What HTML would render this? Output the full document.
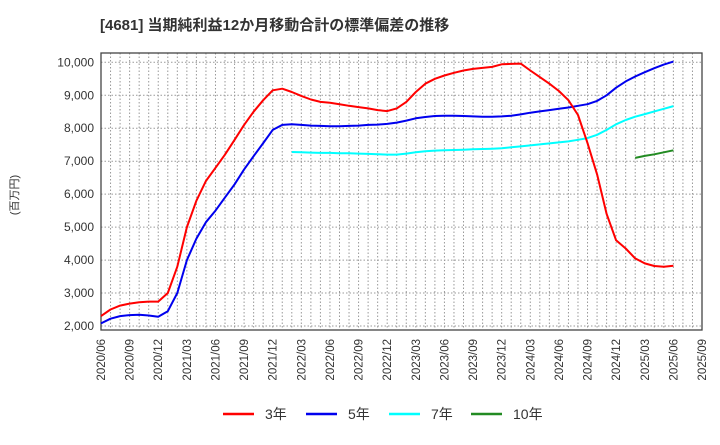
<!DOCTYPE html>
<html><head><meta charset="utf-8"><style>
body{margin:0;background:#fff;font-family:"Liberation Sans","Noto Sans CJK JP",sans-serif}
</style></head><body>
<svg id="c" width="720" height="440" xmlns="http://www.w3.org/2000/svg" style="font-family:'Liberation Sans','Noto Sans CJK JP',sans-serif">
<text x="100" y="30" font-size="15" font-weight="bold" fill="#333">[4681]  当期純利益12か月移動合計の標準偏差の推移</text>
<text transform="translate(18,195) rotate(-90)" text-anchor="middle" font-size="11" fill="#333">(百万円)</text>
<g id="grid"></g><g id="axes"></g><g id="series"></g><g id="legend"></g>
</svg>
<script>
const yTicks=[2000,3000,4000,5000,6000,7000,8000,9000,10000];
const xTickLabels=["2020/06","2020/09","2020/12","2021/03","2021/06","2021/09","2021/12","2022/03","2022/06","2022/09","2022/12","2023/03","2023/06","2023/09","2023/12","2024/03","2024/06","2024/09","2024/12","2025/03","2025/06","2025/09"];
const s3=[2300,2500,2620,2680,2720,2740,2740,3000,3800,5000,5800,6400,6800,7200,7650,8100,8500,8850,9150,9200,9100,8980,8870,8800,8770,8730,8680,8640,8600,8550,8520,8600,8800,9100,9350,9500,9600,9680,9750,9800,9830,9860,9940,9950,9960,9750,9550,9350,9130,8850,8400,7550,6600,5400,4600,4350,4050,3900,3820,3800,3830];
const s5=[2080,2220,2300,2330,2340,2320,2280,2450,3000,4000,4650,5150,5500,5900,6300,6750,7150,7550,7950,8100,8120,8100,8080,8070,8060,8060,8070,8080,8100,8110,8130,8170,8230,8300,8340,8370,8380,8380,8370,8360,8350,8350,8360,8380,8420,8470,8510,8550,8590,8630,8680,8730,8830,9000,9230,9420,9570,9700,9820,9930,10020];
const s7=[7280,7270,7260,7250,7250,7240,7240,7230,7220,7210,7200,7200,7230,7270,7300,7320,7330,7340,7350,7360,7370,7380,7390,7420,7450,7480,7510,7540,7570,7600,7650,7700,7800,7950,8120,8250,8350,8430,8510,8590,8670];
const s10=[7100,7160,7210,7270,7330];
const start7=20, start10=56;
const L=101,R=702,T=53,B=330,months=63;
const X=m=>L+m*(R-L)/months;
const Y=v=>326-(v-2000)*(326-62.3)/8000;
const NS="http://www.w3.org/2000/svg";
function mk(tag,attrs,parent){const e=document.createElementNS(NS,tag);for(const k in attrs)e.setAttribute(k,attrs[k]);document.getElementById(parent).appendChild(e);return e;}
for(let m=1;m<months;m++){const e=mk('line',{x1:X(m),x2:X(m),y1:T,y2:B,stroke:'#999','stroke-dasharray':'1.5,2','stroke-width':1},'grid');

}
yTicks.forEach(v=>{const e=mk('line',{x1:L,x2:R,y1:Y(v),y2:Y(v),stroke:'#999','stroke-dasharray':'1.5,2'},'grid');


const t=mk('text',{x:L-7,y:Y(v)+4,'text-anchor':'end','font-size':12,fill:'#333'},'axes');t.textContent=v.toLocaleString('en-US');

});
const f=mk('rect',{x:L,y:T,width:R-L,height:B-T,fill:'none',stroke:'#444','stroke-width':1.3},'axes');


xTickLabels.forEach((s,i)=>{const x=X(i*3);const t=mk('text',{transform:`translate(${x+4},339) rotate(-90)`,'text-anchor':'end','font-size':11.5,fill:'#333'},'axes');t.textContent=s;

});
function line(arr,st,col,name){const p=arr.map((v,i)=>X(st+i).toFixed(1)+','+Y(v).toFixed(1)).join(' ');
const e=mk('polyline',{points:p,fill:'none',stroke:col,'stroke-width':2,'stroke-linejoin':'round'},'series');

}
line(s7,start7,'#00ffff','series-7y');
line(s10,start10,'#228b22','series-10y');
line(s5,0,'#0000ee','series-5y');
line(s3,0,'#ff0000','series-3y');
[['3年','#ff0000',223],['5年','#0000ee',306],['7年','#00ffff',389],['10年','#228b22',471]].forEach(([n,c,x])=>{
const l=mk('line',{x1:x,x2:x+31,y1:414,y2:414,stroke:c,'stroke-width':2.5},'legend');


const t=mk('text',{x:x+42,y:419,'font-size':14,fill:'#333'},'legend');t.textContent=n;

});
</script>
</body></html>
